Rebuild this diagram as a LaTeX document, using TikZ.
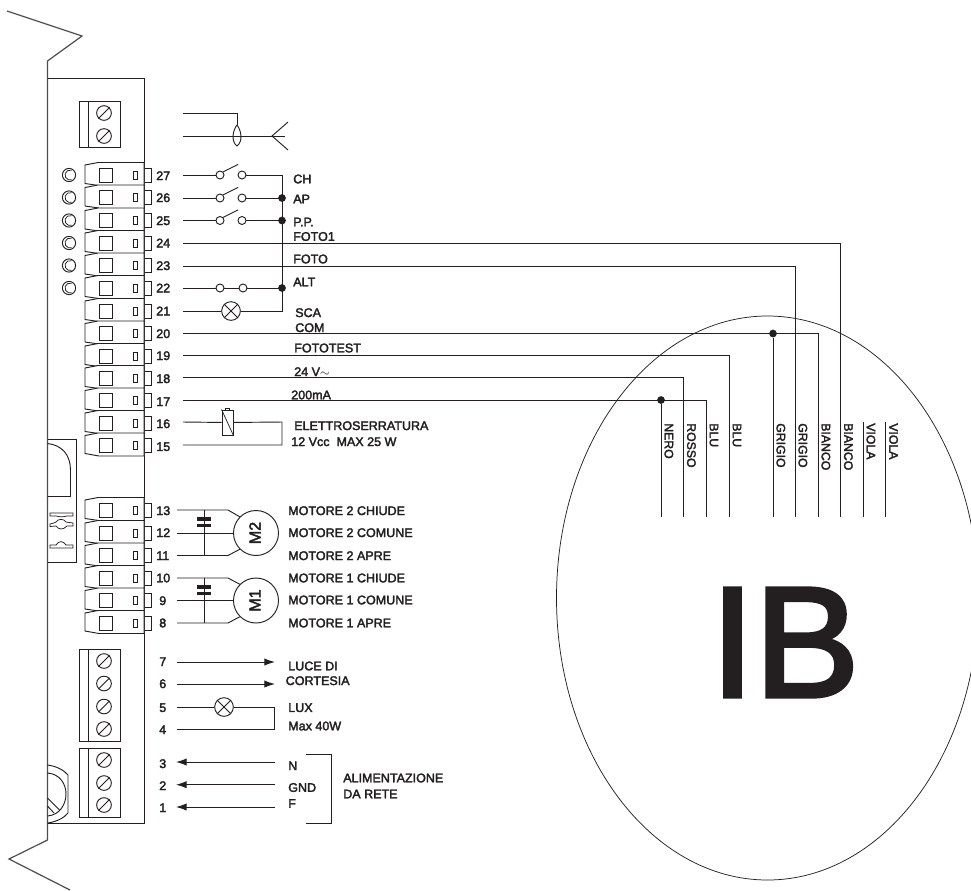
\documentclass[tikz,border=0pt]{standalone}
\usepackage{fontspec}
\usetikzlibrary{arrows.meta}
\setmainfont{Liberation Sans}
\newfontfamily\labfont[RawFeature={embolden=2.5}]{Liberation Sans}
\newfontfamily\bigfont[RawFeature={embolden=2.6}]{Liberation Sans}
\definecolor{ink}{HTML}{231F20}
\tikzset{
  wire/.style={draw=ink,line width=0.7pt},
  thinwire/.style={draw=ink,line width=0.55pt},
  lab/.style={anchor=west,inner sep=0pt,text=ink,font=\labfont\fontsize{9.4}{10}\selectfont},
  rotlab/.style={anchor=north west,rotate=-90,inner sep=0pt,text=ink,font=\labfont\fontsize{9.2}{10}\selectfont},
  num/.style={anchor=west,inner sep=0pt,text=ink,font=\labfont\fontsize{9.4}{10}\selectfont},
  ring/.style={circle,draw=ink,line width=0.7pt,inner sep=0pt,minimum size=6pt},
  screwnode/.style={circle,draw=ink,line width=0.7pt,inner sep=0pt,minimum size=11pt},
  lampnode/.style={circle,draw=ink,line width=0.7pt,inner sep=0pt,minimum size=14pt},
  motor/.style={circle,draw=ink,line width=0.7pt,inner sep=0pt,minimum size=33.75pt},
  dotnode/.style={circle,fill=ink,inner sep=0pt,minimum size=5.8pt},
  arr/.style={wire,-{Latex[length=8pt,width=5.5pt]}},
  plate/.style={fill=ink,draw=none},
}
\newcommand{\screwat}[3]{\node[screwnode] (#1) at (#2,#3) {};
  \draw[wire] (#1.225) -- (#1.45);}
\newcommand{\lampat}[3]{\node[lampnode] (#1) at (#2,#3) {};
  \draw[wire] (#1.45) -- (#1.225) (#1.135) -- (#1.315);}
\newcommand{\capat}[2]{%
  \fill[plate] (#1-7,#2+6.7) rectangle (#1+7,#2+10.7);
  \fill[plate] (#1-7,#2+13.5) rectangle (#1+7,#2+17);}
\begin{document}
\begin{tikzpicture}[x=0.75pt,y=-0.75pt]
\clip (0,0) rectangle (971,890);
\fill[white] (0,0) rectangle (971,890);

% ---- big circle
\draw[thinwire] (767.5,598) ellipse [x radius=211,y radius=282];
\node[anchor=center,inner sep=0pt,text=ink,font=\bigfont\fontsize{118}{118}\selectfont] (ib) at (785,642.5) {IB};

% ---- board outline
\draw[draw=ink!80,line width=0.9pt] (7,11) -- (82,36) -- (47.5,61) -- (47.5,840) -- (9,859) -- (70,890);
\draw[wire] (47.5,78) -- (144,78) -- (144,823) -- (47.5,823);

% ---- top terminal block
\draw[wire] (79,101) rectangle (120.5,147.5) (88,101) -- (88,147.5);
\screwat{sa}{104}{113}
\screwat{sb}{104}{136}

% ---- clamps
\foreach \n/\y in {27/175,26/197.5,25/220.5,24/243,23/265.5,22/288,21/311,20/333.5,19/356,18/378,17/400.5,16/423,13/510,12/533,11/555.5,10/578,9/600.5}{
  \begin{scope}[shift={(0,\y)}]
    \draw[wire,fill=white] (144,10) -- (144,-12.5) -- (98,-12.5) -- (85,-10) -- (85,8.5) -- (99,10.5);
  \end{scope}
}
\foreach \y in {445.5,623}{
  \begin{scope}[shift={(0,\y)}]
    \draw[wire,fill=white] (144,10.5) -- (144,-12.5) -- (98,-12.5) -- (85,-10) -- (85,8) -- (99,10.5) -- cycle;
  \end{scope}
}
\foreach \n/\y in {27/175,26/197.5,25/220.5,24/243,23/265.5,22/288,21/311,20/333.5,19/356,18/378,17/400.5,16/423,15/445.5,13/510,12/533,11/555.5,10/578,9/600.5,8/623}{
  \draw[wire] (99,\y-7) rectangle (112.5,\y+7);
  \draw[wire] (133,\y-4) rectangle (137.5,\y+4);
  \draw[wire] (145,\y-7) -- (151,\y-7) -- (151,\y+7) -- (145,\y+7);
}
\foreach \y in {175,197.5,220.5,243,265.5,288}{
  \draw[wire] (69,\y) circle [radius=6.6];
  \draw[thinwire] (71.7,\y-4.7) arc [start angle=290,end angle=70,radius=5];
}
% numbers
\foreach \n/\y in {27/175.7,26/197.7,25/220.7,24/243,23/265.7,22/288,21/311,20/333.7,19/355.7,18/378.7,17/401.7,16/423.7,15/446.7,13/510.7,12/532.7,11/555.7,10/578}{
  \node[num] (n\n) at (156,\y) {\n};
}
\foreach \n/\y in {9/600.7,8/623,7/661.7,6/683.7,5/707.7,4/729.7,3/763.7,2/785.7,1/807.7}{
  \node[num] (n\n) at (159,\y) {\n};
}

% ---- top antenna
\coordinate (ana) at (183,113);
\coordinate (anb) at (183,136);
\coordinate (anj) at (237,113);
\coordinate (ank) at (237,125);
\coordinate (anl) at (237,146);
\coordinate (anm) at (285,136);
\coordinate (ant) at (272,136);
\coordinate (anu) at (288,122);
\coordinate (anv) at (288,150);
\draw[wire] (ana) -- (anj) -- (ank);
\draw[wire] (anb) -- (anm);
\draw[wire] (ank) .. controls (233,130) and (230.5,141) .. (anl) .. controls (243.5,141) and (241,130) .. (ank);
\draw[wire] (anu) -- (ant) -- (anv);

% ---- switches
\foreach \n/\y in {27/175,26/198,25/220.5}{
  \coordinate (w\n) at (183,\y);
  \coordinate (b\n) at (282,\y);
  \node[ring] (sl\n) at (220,\y) {};
  \node[ring] (sr\n) at (242,\y) {};
  \draw[wire] (w\n) -- (sl\n) (sr\n) -- (b\n);
  \draw[wire] (sl\n.north east) -- +(15,-7.5);
}
\coordinate (w22) at (183,288);
\coordinate (b22) at (282,288);
\node[ring] (sl22) at (220,288) {};
\node[ring] (sr22) at (243,288) {};
\draw[wire] (w22) -- (sl22) -- (sr22) -- (b22);
\node[dotnode] at (b26) {};
\node[dotnode] at (b25) {};
\node[dotnode] at (b22) {};
% lamp 21
\coordinate (w21) at (183,311);
\coordinate (b21) at (282,311);
\lampat{la}{231}{311}
\draw[wire] (w21) -- (la) -- (b21) -- (b27);

% ---- long wires to the circle
\foreach \n/\y/\x in {24/243/840.5,23/266/795,20/333.5/818,19/355/729,18/377.5/683.5,17/400/706}{
  \coordinate (w\n) at (183,\y);
  \coordinate (c\n) at (\x,\y);
  \coordinate (e\n) at (\x,517);
  \draw[wire] (w\n) -- (c\n) -- (e\n);
}
\node[dotnode] (d20) at (773,333.5) {};
\node[dotnode] (d17) at (661,400) {};
\coordinate (ed20) at (773,517);
\coordinate (ed17) at (661,517);
\draw[wire] (d20) -- (ed20);
\draw[wire] (d17) -- (ed17);
\coordinate (va) at (863,422); \coordinate (vb) at (863,517);
\coordinate (vc) at (885.7,422); \coordinate (vd) at (885.7,517);
\draw[wire] (va) -- (vb);
\draw[wire] (vc) -- (vd);
\foreach \x/\t in {661/NERO,683.5/ROSSO,706/BLU,729/BLU,773/GRIGIO,795/GRIGIO,818/BIANCO,840.5/BIANCO,863/VIOLA,885.7/VIOLA}{
  \node[rotlab] at (\x+12.5,423) {\t};
}

% ---- relay
\coordinate (w16) at (183,422);
\coordinate (w15) at (183,445);
\coordinate (r1) at (282,422);
\coordinate (r2) at (282,445);
\node[draw=ink,line width=0.7pt,inner sep=0pt,minimum width=8.2pt,minimum height=18.7pt] (rel) at (227.5,422.5) {};
\draw[wire] (w16) -- (rel) -- (r1) -- (r2) -- (w15);
\draw[thinwire] (rel.north west) -- (rel.south east);
\draw[wire] (225.3,410) -- (225.3,408) -- (229.3,408) -- (229.3,410);

% ---- motors
\foreach \m/\ya/\yb/\yc/\t in {ma/510/533/555.5/M2,mb/578/600.5/623/M1}{
  \node[motor] (\m) at (256,\yb) {};
  \node[rotate=90,inner sep=0pt,text=ink,font=\labfont\fontsize{12}{12}\selectfont] at (255,\yb) {\t};
  \coordinate (\m a) at (177,\ya);
  \coordinate (\m b) at (177,\yb);
  \coordinate (\m c) at (177,\yc);
  \coordinate (\m j) at (228,\ya);
  \coordinate (\m k) at (228,\yc);
  \draw[wire] (\m a) -- (\m j) -- (\m.135);
  \draw[wire] (\m b) -- (\m);
  \draw[wire] (\m c) -- (\m k) -- (\m.225);
  \draw[wire] (204,\ya) -- (204,\yc);
  \capat{204}{\ya}
}

% ---- lower terminals
\draw[wire] (79,649.5) rectangle (120.5,741) (88,649.5) -- (88,741);
\screwat{sc}{104}{661}
\screwat{sd}{104}{683.5}
\screwat{se}{104}{706.5}
\screwat{sf}{104}{729}
\draw[wire] (79,748) rectangle (120.5,817) (88,748) -- (88,817);
\screwat{sg}{104}{760}
\screwat{sh}{104}{783}
\screwat{si}{104}{805}

% ---- lower wires
\coordinate (w7) at (177,662); \coordinate (p7) at (275,662);
\coordinate (w6) at (177,684); \coordinate (p6) at (275,684);
\draw[arr] (w7) -- (p7);
\draw[arr] (w6) -- (p6);
\coordinate (w5) at (177,707); \coordinate (w4) at (177,729);
\coordinate (q5) at (274,707); \coordinate (q4) at (274,729);
\lampat{lb}{224}{707}
\draw[wire] (w5) -- (lb) -- (q5) -- (q4) -- (w4);
\foreach \n/\y in {3/762,2/784.7,1/807}{
  \coordinate (w\n) at (176,\y);
  \coordinate (p\n) at (275,\y);
  \draw[arr] (p\n) -- (w\n);
}
% bracket
\coordinate (ba) at (306,754); \coordinate (bb) at (331,754);
\coordinate (bc) at (331,823); \coordinate (bd) at (306,823);
\draw[wire] (ba) -- (bb) -- (bc) -- (bd);

% ---- left connector block
\draw[wire] (47.5,439) -- (76,439) -- (76,562.5) -- (47.5,562.5);
\draw[wire] (47.5,443.5) .. controls (62,445) and (70.5,455) .. (70.5,470) -- (70.5,496.5) -- (47.5,496.5);
\draw[thinwire] (50,513) -- (73,513) -- (73,516) -- (67,516) .. controls (63,517) and (60,517) .. (56,516) -- (50,516) -- cycle;
\draw[thinwire] (50,524) .. controls (53,523) and (55,523) .. (56,522) .. controls (58,518.5) and (64,518.5) .. (66,522) -- (73,523) -- (73,526) -- (67,526) .. controls (63,530) and (59,530) .. (56,526) -- (50,526.5) -- cycle;
\draw[thinwire] (50,545) -- (56,545) .. controls (59,540.5) and (63,540.5) .. (66,545) -- (73,545) -- (73,548) -- (50,548) -- cycle;

% ---- round thing
\draw[wire] (47.5,765) .. controls (56,766) and (64,770) .. (68,775) -- (68,813) .. controls (64,818) and (56,822) .. (47.5,823);
\draw[wire] (47.5,773) .. controls (60,774) and (66,784) .. (66,794) .. controls (66,804) and (60,815) .. (47.5,816);
\draw[wire] (47.5,798) -- (59.5,810) (47.5,806) -- (54,813);

% ---- labels
\foreach \xx/\yy/\t in {293/179/CH,293/199/AP,293/222/P.P.,293/236.5/FOTO1,293/259/FOTO,293/282/ALT,295/312.7/SCA,295/327.7/COM,294/348/FOTOTEST,294/371.7/{24 V$\sim$},291/395/200mA,294/425.7/ELETTROSERRATURA,291/441.7/{12 Vcc\ \ MAX 25 W},288/510.7/MOTORE 2 CHIUDE,288/532.7/MOTORE 2 COMUNE,288/555.7/MOTORE 2 APRE,288/578/MOTORE 1 CHIUDE,288/600/MOTORE 1 COMUNE,288/623/MOTORE 1 APRE,288/666/LUCE DI,285.5/680.7/CORTESIA,288/707.7/LUX,288/726/Max 40W,288/765.7/N,288/787.5/GND,288/803.5/F,343/778/ALIMENTAZIONE,343/794/DA RETE}{
  \node[lab] at (\xx,\yy) {\t};
}
\end{tikzpicture}
\end{document}
